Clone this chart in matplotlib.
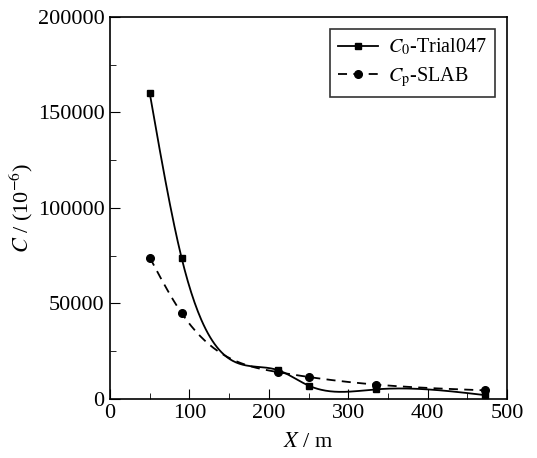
import numpy as np
import matplotlib.pyplot as plt
from matplotlib.ticker import MultipleLocator

plt.rcParams['font.family'] = 'Liberation Serif'
plt.rcParams['mathtext.fontset'] = 'stix'

# distance (m)
x_trial = [50, 90, 212, 250, 335, 472]
c_trial = [160000, 74000, 15000, 7000, 5000, 2000]
x_slab = [50, 90, 212, 250, 335, 472]
c_slab = [74000, 45000, 14000, 11500, 7500, 4500]


def natural_spline(x, y, n=300):
    """natural cubic spline through the points, for the smooth lines"""
    x = np.asarray(x, float)
    y = np.asarray(y, float)
    k = len(x)
    h = np.diff(x)
    A = np.zeros((k, k))
    r = np.zeros(k)
    A[0, 0] = A[-1, -1] = 1
    for i in range(1, k - 1):
        A[i, i - 1] = h[i - 1]
        A[i, i] = 2 * (h[i - 1] + h[i])
        A[i, i + 1] = h[i]
        r[i] = 3 * ((y[i + 1] - y[i]) / h[i] - (y[i] - y[i - 1]) / h[i - 1])
    c = np.linalg.solve(A, r)
    xs = np.linspace(x[0], x[-1], n)
    idx = np.clip(np.searchsorted(x, xs) - 1, 0, k - 2)
    dx = xs - x[idx]
    hi = h[idx]
    b = (y[idx + 1] - y[idx]) / hi - hi * (2 * c[idx] + c[idx + 1]) / 3
    d = (c[idx + 1] - c[idx]) / (3 * hi)
    ys = y[idx] + b * dx + c[idx] * dx ** 2 + d * dx ** 3
    return xs, ys


fig = plt.figure(figsize=(5.37, 4.58), dpi=100)
ax = fig.add_axes([0.205, 0.129, 0.739, 0.834])

dash = (0, (5, 3.5))

xs, ys = natural_spline(x_trial, c_trial)
ax.plot(xs, ys, color='black', lw=1.3)
ax.plot(x_trial, c_trial, ls='none', marker='s', ms=5, color='black')
ax.plot([], [], color='black', lw=1.3, marker='s', ms=5, label='$C_0$-Trial047')

xs, ys = natural_spline(x_slab, c_slab)
ax.plot(xs, ys, color='black', lw=1.3, ls=dash)
ax.plot(x_slab, c_slab, ls='none', marker='o', ms=5.5, color='black')
ax.plot([], [], color='black', lw=1.3, ls=dash, marker='o', ms=5.5,
        label='$C_\\mathrm{p}$-SLAB')

ax.set_xlim(0, 500)
ax.set_ylim(0, 200000)
ax.xaxis.set_major_locator(MultipleLocator(100))
ax.xaxis.set_minor_locator(MultipleLocator(50))
ax.yaxis.set_major_locator(MultipleLocator(50000))
ax.yaxis.set_minor_locator(MultipleLocator(25000))
ax.tick_params(which='both', direction='in', top=False, right=False, labelsize=16)
ax.tick_params(which='major', length=7, pad=4)
ax.tick_params(which='minor', length=4)
for s in ax.spines.values():
    s.set_linewidth(1.2)

ax.set_xlabel('$X$ / m', fontsize=16, labelpad=7)
ax.set_ylabel('$C$ / (10$^{-6}$)', fontsize=16, labelpad=2)

leg = ax.legend(loc='upper right', fontsize=14.5, frameon=True, fancybox=False,
                edgecolor='black', handlelength=2.0, borderpad=0.4,
                labelspacing=0.35, handletextpad=0.5, borderaxespad=0.6)
leg.get_frame().set_linewidth(1.2)

fig.savefig('out.png', dpi=100)
